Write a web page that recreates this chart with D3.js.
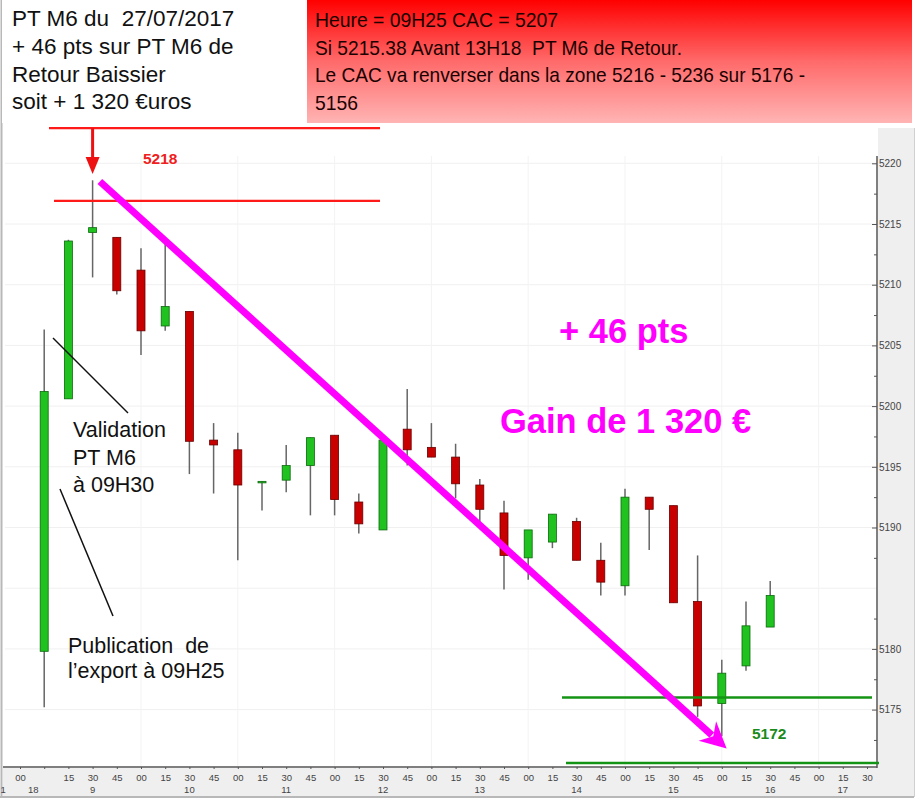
<!DOCTYPE html>
<html><head><meta charset="utf-8">
<script src="https://cdn.jsdelivr.net/npm/d3@7/dist/d3.min.js"></script>
<style>
html,body{margin:0;padding:0;background:#fff;}
svg{display:block;font-family:"Liberation Sans",Arial,sans-serif;}
text{white-space:pre;}
</style></head>
<body>
<svg id="c" width="917" height="800"></svg>
<script>
// ---------- DATA ----------
const slots  = [1,2,3,4,5,6,7,8,9,10,11,12,13,14,15,16,17,18,19,20,21,22,23,24,25,26,27,28,29,30,31];
const opens  = [5179.8,5200.6,5214.3,5213.9,5211.2,5206.6,5207.8,5197.2,5196.4,5193.7,5193.9,5195.1,5197.6,5192.1,5189.8,5198.1,5196.6,5195.8,5193.5,5191.2,5187.5,5188.8,5190.5,5187.3,5185.2,5192.5,5191.8,5183.9,5175.5,5178.6,5181.8];
const highs  = [5206.3,5213.7,5218.6,5213.9,5213.0,5213.4,5207.8,5198.6,5197.8,5193.8,5196.8,5197.4,5197.6,5192.8,5197.5,5201.4,5198.6,5196.9,5194.0,5192.2,5189.8,5191.1,5190.8,5188.75,5193.2,5192.5,5191.8,5187.7,5179.1,5183.9,5185.6];
const lows   = [5175.2,5200.6,5210.6,5209.2,5204.2,5206.2,5194.4,5192.8,5187.3,5191.4,5192.9,5191.0,5191.0,5189.5,5189.8,5195.1,5195.8,5192.4,5190.5,5184.9,5185.7,5188.3,5187.3,5184.4,5184.4,5188.15,5183.8,5174.4,5172.8,5178.2,5181.8];
const closes = [5201.2,5213.6,5214.7,5209.5,5206.2,5208.2,5197.1,5196.8,5193.5,5193.8,5195.1,5197.4,5192.3,5190.3,5197.2,5196.4,5195.8,5193.6,5191.5,5187.7,5189.8,5191.1,5187.3,5185.5,5192.5,5191.5,5183.8,5175.3,5178.0,5181.9,5184.4];

const minuteLabels = ["00","","15","30","45","00","15","30","45","00","15","30","45","00","15","30","45","00","15","30","45","00","15","30","45","00","15","30","45","00","15","30","45","00","15","30"];
const hourLabels = ["1","18","9","10","11","12","13","14","15","16","17"];
const hourSlots  = [-0.7,0.55,3,7,11,15,19,23,27,31,34];

const yTickLabels = [5175,5180,5190,5195,5200,5205,5210,5215,5220];
const yMinorTicks = [5172.5,5177.5,5182.5,5187.5,5192.5,5197.5,5202.5,5207.5,5212.5,5217.5];

const leftBoxLines  = ["PT M6 du  27/07/2017","+ 46 pts sur PT M6 de","Retour Baissier","soit + 1 320 €uros"];
const rightBoxLines = ["Heure = 09H25 CAC = 5207","Si 5215.38 Avant 13H18  PT M6 de Retour.","Le CAC va renverser dans la zone 5216 - 5236 sur 5176 -","5156"];

// annotation levels
const redLevels   = [5222.9, 5216.9];
const greenLevels = [5176.0, 5170.6];
const trendFrom = {slot:3.3, v:5218.5};
const trendTo   = {slot:29.2, v:5171.8};

// ---------- DRAW ----------
const svg = d3.select("#c");
const x = d3.scaleLinear().domain([0,35]).range([20,867]);
const y = d3.scaleLinear().domain([5170,5220]).range([770.3,163.3]);
const axisX = 877, axisY = 767;

// background panels
svg.append("rect").attr("x",878).attr("y",128).attr("width",36).attr("height",669).attr("fill","#efefef");
svg.append("rect").attr("x",3).attr("y",768).attr("width",911).attr("height",29).attr("fill","#efefef");
svg.append("line").attr("x1",1.5).attr("x2",1.5).attr("y1",0).attr("y2",797).attr("stroke","#b8b8b8").attr("stroke-width",2);
svg.append("line").attr("x1",0).attr("x2",914).attr("y1",797).attr("y2",797).attr("stroke","#b8b8b8").attr("stroke-width",2);
svg.append("line").attr("x1",914.5).attr("x2",914.5).attr("y1",128).attr("y2",797).attr("stroke","#d0d0d0").attr("stroke-width",1);

// faint grid
const g = svg.append("g");
g.selectAll("line.hg").data(d3.range(5175,5221,5)).join("line")
  .attr("x1",5).attr("x2",axisX).attr("y1",d=>y(d)).attr("y2",d=>y(d))
  .attr("stroke","#f0f0f0").attr("stroke-width",1);
g.selectAll("line.vg").data([5,9,13,17,21,25,29,33]).join("line")
  .attr("x1",d=>x(d)).attr("x2",d=>x(d)).attr("y1",156).attr("y2",axisY)
  .attr("stroke","#f3f3f3").attr("stroke-width",1);

// axes
svg.append("line").attr("x1",axisX).attr("x2",axisX).attr("y1",156).attr("y2",axisY+1).attr("stroke","#555").attr("stroke-width",1.5);
svg.append("line").attr("x1",3).attr("x2",axisX).attr("y1",axisY).attr("y2",axisY).attr("stroke","#555").attr("stroke-width",1.5);

const yAx = svg.append("g").attr("transform",`translate(${axisX},0)`)
  .call(d3.axisRight(y).tickValues(yTickLabels).tickSizeInner(-5).tickSizeOuter(0).tickPadding(2).tickFormat(d3.format("d")));
yAx.select(".domain").remove();
yAx.selectAll("line").attr("stroke","#555");
yAx.selectAll("text").attr("fill","#444").style("font-size","10px").style("font-family","Liberation Sans, Arial, sans-serif");
const yMin = svg.append("g").attr("transform",`translate(${axisX},0)`)
  .call(d3.axisRight(y).tickValues(yMinorTicks).tickSizeInner(-3).tickSizeOuter(0).tickFormat(""));
yMin.select(".domain").remove();
yMin.selectAll("line").attr("stroke","#555");

const xAx = svg.append("g").attr("transform",`translate(0,${axisY})`)
  .call(d3.axisBottom(x).tickValues(d3.range(0,36)).tickSizeInner(2).tickSizeOuter(0).tickPadding(5).tickFormat(i=>minuteLabels[i]));
xAx.select(".domain").remove();
xAx.selectAll("line").attr("stroke","#555");
xAx.selectAll("text").attr("fill","#444").style("font-size","9.5px").style("font-family","Liberation Sans, Arial, sans-serif");
svg.append("g").selectAll("text").data(hourLabels).join("text")
  .attr("x",(d,i)=>x(hourSlots[i])).attr("y",793).attr("text-anchor","middle")
  .attr("fill","#444").style("font-size","9.5px").text(d=>d);

// candles
const candles = slots.map((s,i)=>({s,o:opens[i],h:highs[i],l:lows[i],c:closes[i]}));
const cg = svg.append("g");
cg.selectAll("line.w").data(candles).join("line")
  .attr("x1",d=>x(d.s)).attr("x2",d=>x(d.s)).attr("y1",d=>y(d.h)).attr("y2",d=>y(d.l))
  .attr("stroke","#666").attr("stroke-width",1.5);
cg.selectAll("rect").data(candles).join("rect")
  .attr("x",d=>x(d.s)-4).attr("width",8)
  .attr("y",d=>y(Math.max(d.o,d.c)))
  .attr("height",d=>Math.max(1.5,Math.abs(y(d.o)-y(d.c))))
  .attr("fill",d=>d.c>=d.o?"#1fc21f":"#c80000")
  .attr("stroke",d=>d.c>=d.o?"#0d6a0d":"#6a0000").attr("stroke-width",0.8);

// red lines + arrow
svg.append("line").attr("x1",49).attr("x2",380).attr("y1",y(redLevels[0])).attr("y2",y(redLevels[0])).attr("stroke","#ff1a1a").attr("stroke-width",2.2);
svg.append("line").attr("x1",54).attr("x2",380).attr("y1",y(redLevels[1])).attr("y2",y(redLevels[1])).attr("stroke","#ff1a1a").attr("stroke-width",2.2);
const ax0 = x(3);
svg.append("line").attr("x1",ax0).attr("x2",ax0).attr("y1",y(redLevels[0])).attr("y2",158).attr("stroke","#ee1111").attr("stroke-width",3);
svg.append("path").attr("d",`M${ax0-7},157 L${ax0+7},157 L${ax0},174 Z`).attr("fill","#ee1111");
svg.append("text").attr("x",143).attr("y",164).attr("fill","#ee2020").style("font-size","15.5px").style("font-weight","bold").text("5218");

// green lines
svg.append("line").attr("x1",562).attr("x2",872).attr("y1",y(greenLevels[0])).attr("y2",y(greenLevels[0])).attr("stroke","#149414").attr("stroke-width",2.5);
svg.append("line").attr("x1",566).attr("x2",879).attr("y1",y(greenLevels[1])).attr("y2",y(greenLevels[1])).attr("stroke","#149414").attr("stroke-width",2.5);
svg.append("text").attr("x",752).attr("y",739).attr("fill","#1a8a1a").style("font-size","15.5px").style("font-weight","bold").text("5172");

// magenta trend arrow
const p0=[x(trendFrom.slot),y(trendFrom.v)], p1=[x(trendTo.slot),y(trendTo.v)];
const ang=Math.atan2(p1[1]-p0[1],p1[0]-p0[0]);
const hl=26, hw=13;
const back=[p1[0]-hl*Math.cos(ang),p1[1]-hl*Math.sin(ang)];
svg.append("line").attr("x1",p0[0]).attr("y1",p0[1]).attr("x2",back[0]+6*Math.cos(ang)).attr("y2",back[1]+6*Math.sin(ang))
  .attr("stroke","#ff00ff").attr("stroke-width",7);
const nx=-Math.sin(ang), ny=Math.cos(ang);
svg.append("path").attr("d",`M${p1[0]},${p1[1]} L${back[0]+hw*nx},${back[1]+hw*ny} L${back[0]+8*Math.cos(ang)},${back[1]+8*Math.sin(ang)} L${back[0]-hw*nx},${back[1]-hw*ny} Z`).attr("fill","#ff00ff");

svg.append("text").attr("x",559).attr("y",343).attr("fill","#ff00ff").style("font-size","34.5px").style("font-weight","bold").text("+ 46 pts");
svg.append("text").attr("x",500).attr("y",433).attr("fill","#ff00ff").style("font-size","34.5px").style("font-weight","bold").text("Gain de 1 320 €");

// black pointer annotations
svg.append("line").attr("x1",53).attr("y1",338).attr("x2",128).attr("y2",413).attr("stroke","#111").attr("stroke-width",1.5);
svg.append("line").attr("x1",60).attr("y1",489).attr("x2",113).attr("y2",616).attr("stroke","#111").attr("stroke-width",1.5);
const annV = ["Validation","PT M6","à 09H30"];
svg.append("g").selectAll("text").data(annV).join("text")
  .attr("x",73).attr("y",(d,i)=>437+i*27.5).attr("fill","#111").style("font-size","21.5px").text(d=>d);
const annP = ["Publication  de","l’export à 09H25"];
svg.append("g").selectAll("text").data(annP).join("text")
  .attr("x",68).attr("y",(d,i)=>653+i*25).attr("fill","#111").style("font-size","21.5px").text(d=>d);

// top boxes
svg.append("rect").attr("x",2).attr("y",0).attr("width",305).attr("height",123).attr("fill","#fff");
svg.append("g").selectAll("text").data(leftBoxLines).join("text")
  .attr("x",12).attr("y",(d,i)=>26+i*27.8).attr("fill","#111").style("font-size","22.5px").text(d=>d);

const defs = svg.append("defs");
const grad = defs.append("linearGradient").attr("id","rg").attr("x1",0).attr("x2",0).attr("y1",0).attr("y2",1);
grad.append("stop").attr("offset","0%").attr("stop-color","#ff0000");
grad.append("stop").attr("offset","50%").attr("stop-color","#ff6a6a");
grad.append("stop").attr("offset","100%").attr("stop-color","#ffb4b4");
svg.append("rect").attr("x",307).attr("y",0).attr("width",605).attr("height",123).attr("fill","url(#rg)");
const rLens=[243,367,490,43];
svg.append("g").selectAll("text").data(rightBoxLines).join("text")
  .attr("x",315).attr("y",(d,i)=>27+i*27.5).attr("fill","#1a0000").style("font-size","21px")
  .attr("textLength",(d,i)=>rLens[i]).attr("lengthAdjust","spacingAndGlyphs").text(d=>d);
</script>
</body></html>
